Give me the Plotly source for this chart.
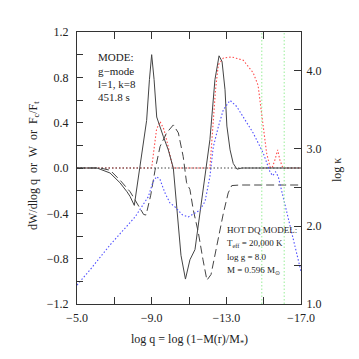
import plotly.graph_objects as go

# dW/dlog q (solid)
dw_x = [-5.0, -6.07, -6.77, -7.30, -7.68, -7.84, -8.07, -8.37, -8.73, -8.88, -9.0, -9.13, -9.27, -9.62, -9.89,
        -10.16, -10.34, -10.43, -10.57, -10.81, -11.05, -11.32, -11.59, -11.86, -12.12, -12.39, -12.61, -12.77,
        -12.93, -13.03, -13.2, -13.37, -13.57, -13.84, -17.0]
dw_y = [0.0, 0.0, -0.044, -0.13, -0.21, -0.25, -0.33, 0.0, 0.42, 0.78, 1.0, 0.78, 0.45, 0.28, 0.16,
        0.0, -0.34, -0.55, -0.77, -0.98, -0.81, -0.72, -0.40, -0.06, 0.25, 0.78, 0.99, 0.94,
        0.69, 0.37, 0.16, 0.04, -0.01, 0.0, 0.0]

# W (dashed)
w_x = [-5.0, -6.23, -6.78, -7.32, -7.85, -8.21, -8.57, -8.7, -8.95, -9.18, -9.45, -9.8, -10.16, -10.43,
       -10.69, -10.87, -11.05, -11.23, -11.5, -11.75, -11.96, -12.18, -12.48, -12.84, -13.1, -13.29, -13.73, -17.0]
w_y = [0.0, 0.0, -0.02, -0.11, -0.21, -0.31, -0.41, -0.415, -0.24, -0.02, 0.19, 0.31, 0.38, 0.31,
       0.10, -0.13, -0.19, -0.37, -0.57, -0.81, -0.99, -0.94, -0.69, -0.40, -0.22, -0.155, -0.15, -0.15]

# Fc/Ft (red dotted)
fc_x = [-5.0, -9.0, -9.12, -9.26, -9.45, -9.66, -9.87, -10.13, -12.12, -12.23, -12.3, -12.42, -12.57, -12.84,
        -13.29, -13.91, -14.44, -14.7, -14.89, -15.02, -15.16, -15.34, -15.45, -15.6, -15.75, -15.87, -16.03, -17.0]
fc_y = [0.0, 0.0, 0.16, 0.34, 0.41, 0.34, 0.20, 0.0, 0.0, 0.25, 0.42, 0.69, 0.91, 0.97,
        0.98, 0.95, 0.84, 0.73, 0.48, 0.29, 0.13, 0.01, 0.0, 0.07, 0.16, 0.07, 0.0, 0.0]

# log kappa (blue dotted, right axis)
k_x = [-5.0, -5.70, -6.77, -7.57, -8.11, -8.82, -9.07, -9.27, -9.45, -9.71, -9.98, -10.25, -10.63, -10.96,
       -11.32, -11.59, -11.86, -12.12, -12.30, -12.57, -12.84, -13.20, -13.56, -13.91, -14.44, -14.98,
       -15.34, -15.48, -15.64, -15.78, -16.41, -17.0]
k_y = [1.244, 1.44, 1.76, 1.98, 2.12, 2.38, 2.57, 2.64, 2.60, 2.43, 2.30, 2.25, 2.15, 2.12,
       2.17, 2.21, 2.32, 2.64, 3.02, 3.28, 3.50, 3.62, 3.54, 3.41, 3.20, 2.94,
       2.70, 2.65, 2.70, 2.64, 2.00, 1.42]

green_x = [-14.9, -16.1]

x_tickvals = [-5, -9, -13, -17]
x_ticktext = ["\u22125.0", "\u22129.0", "\u221213.0", "\u221217.0"]

SERIF = "Liberation Serif"
AX = "#333333"

fig = go.Figure()
fig.add_trace(go.Scatter(x=k_x, y=k_y, yaxis="y2", mode="lines",
                         line=dict(color="#4f4fff", width=1.1, dash="1.5px,2px"), showlegend=False))
fig.add_trace(go.Scatter(x=fc_x, y=fc_y, mode="lines",
                         line=dict(color="#ff4a4a", width=1.1, dash="1.5px,2px"), showlegend=False))
fig.add_trace(go.Scatter(x=w_x, y=w_y, mode="lines",
                         line=dict(color="#444444", width=1, dash="8px,4px"), showlegend=False))
fig.add_trace(go.Scatter(x=dw_x, y=dw_y, mode="lines",
                         line=dict(color="#444444", width=1), showlegend=False))

# zero line
fig.add_shape(type="line", x0=-5, x1=-17, y0=0, y1=0, xref="x", yref="y",
              line=dict(color="#444444", width=1, dash="1.5px,2px"))
for gx in green_x:
    fig.add_shape(type="line", x0=gx, x1=gx, y0=0, y1=1, xref="x", yref="paper",
                  line=dict(color="#99ee99", width=1, dash="1.5px,2px"))

ann = []
mode_lines = ["MODE:", "g\u2212mode", "l=1, k=8", "451.8 s"]
mode_y = [0.982, 0.859, 0.741, 0.624]
for t, yy in zip(mode_lines, mode_y):
    ann.append(dict(x=-6.0, y=yy, xref="x", yref="y", text=t, showarrow=False, xanchor="left",
                    yanchor="middle", font=dict(family=SERIF, size=11, color="#222")))
hot_lines = ["HOT DQ MODEL:", "T<sub>eff</sub> = 20,000 K", "log g = 8.0", "M = 0.596 M<sub>\u2299</sub>"]
hot_y = [-0.547, -0.664, -0.783, -0.90]
for t, yy in zip(hot_lines, hot_y):
    ann.append(dict(x=-12.93, y=yy, xref="x", yref="y", text=t, showarrow=False, xanchor="left",
                    yanchor="middle", font=dict(family=SERIF, size=9, color="#222")))

ann.append(dict(x=-0.192, y=0.511, xref="paper", yref="paper", textangle=-90, showarrow=False,
                xanchor="center", yanchor="middle",
                text="dW/dlog q  or  W  or  F<sub>c</sub>/F<sub>t</sub>",
                font=dict(family=SERIF, size=12, color="#222")))
ann.append(dict(x=1.161, y=0.493, xref="paper", yref="paper", textangle=-90, showarrow=False,
                xanchor="center", yanchor="middle",
                text="log \u03ba", font=dict(family=SERIF, size=12, color="#222")))
ann.append(dict(x=0.5, y=-0.132, xref="paper", yref="paper", showarrow=False,
                xanchor="center", yanchor="middle",
                text="log q = log (1\u2212M(r)/M<sub>*</sub>)", font=dict(family=SERIF, size=12, color="#222")))

# page body has an 8px margin: figure is 351 px so the plot sits where the reference has it
fig.update_layout(
    width=351, height=351,
    margin=dict(l=69, r=58, t=24, b=55),
    plot_bgcolor="white", paper_bgcolor="white",
    annotations=ann,
    xaxis=dict(range=[-5, -17], tickvals=x_tickvals, ticktext=x_ticktext,
               showgrid=False, zeroline=False, showline=True, linecolor=AX, linewidth=1,
               mirror="ticks", ticks="inside", ticklen=7, tickcolor=AX,
               minor=dict(tickvals=[-7, -11, -15], ticks="inside", ticklen=7, tickcolor=AX),
               tickfont=dict(family=SERIF, size=12, color="#222"), ticklabelstandoff=3),
    yaxis=dict(range=[-1.2, 1.2], tick0=0, dtick=0.4, tickformat=".1f",
               showgrid=False, zeroline=False, showline=True, linecolor=AX, linewidth=1,
               ticks="inside", ticklen=6, tickcolor=AX,
               minor=dict(dtick=0.2, ticks="inside", ticklen=6, tickcolor=AX),
               tickfont=dict(family=SERIF, size=12, color="#222"), ticklabelstandoff=5),
    yaxis2=dict(range=[1.0, 4.5], tick0=1, dtick=1, tickformat=".1f", overlaying="y", side="right",
                showgrid=False, zeroline=False, showline=True, linecolor=AX, linewidth=1,
                ticks="inside", ticklen=7, tickcolor=AX,
                minor=dict(dtick=0.5, ticks="inside", ticklen=7, tickcolor=AX),
                tickfont=dict(family=SERIF, size=12, color="#222"), ticklabelstandoff=2),
)

fig.write_html("out.html")
